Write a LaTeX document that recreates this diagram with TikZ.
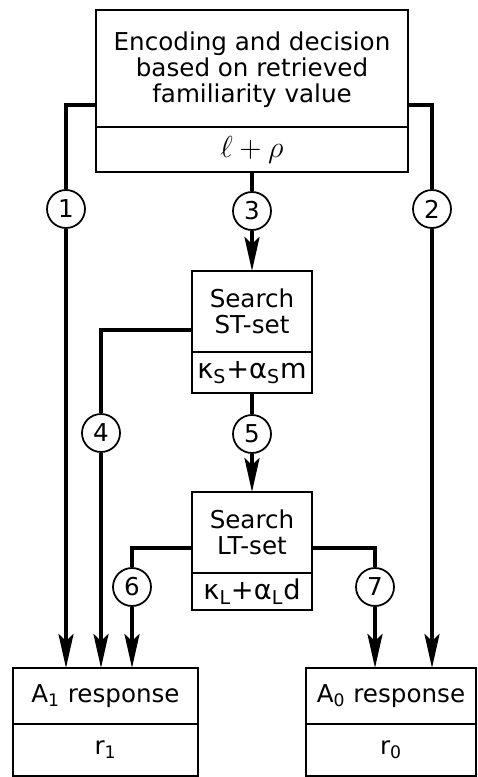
\documentclass[tikz,border=0pt]{standalone}
\usepackage{fontspec}
\setmainfont{DejaVu Sans}
\usetikzlibrary{arrows.meta,positioning}

\begin{document}
\begin{tikzpicture}[
  x=0.02cm,
  y=-0.02cm,
  every node/.style={font=\fontsize{14}{14.8}\selectfont},
  box/.style={draw, line width=1.1pt, outer sep=0pt, inner sep=0pt, align=center},
  num/.style={circle, draw, line width=1pt, minimum size=0.76cm, inner sep=0pt},
  flow/.style={line width=2.2pt},
  flowarrow/.style={flow, -{Stealth[length=0.68cm, width=0.3cm, inset=0.14cm]}}
]
  \useasboundingbox (0,0) rectangle (477,777);

  % ---- top box: encoding and decision ----
  \node[box, minimum width=6.24cm, minimum height=2.34cm] (enc) at (252,68.5)
    {\rule{0pt}{12pt}Encoding and decision\\based on retrieved\\familiarity value};
  \node[box, minimum width=6.24cm, minimum height=0.9cm, below=0pt of enc] (encp)
    {\fontsize{17}{18}\selectfont$\ell+\rho$};

  % ---- search boxes ----
  \node[box, minimum width=2.4cm, minimum height=1.62cm] (st) at (252,311.5)
    {Search\\ST-set};
  \node[box, minimum width=2.4cm, minimum height=0.82cm, below=0pt of st] (stp)
    {\fontsize{15.5}{16}\selectfont κ\textsubscript{S}+α\textsubscript{S}m};
  \node[box, minimum width=2.4cm, minimum height=1.62cm] (lt) at (252,532.5)
    {Search\\LT-set};
  \node[box, minimum width=2.4cm, minimum height=0.74cm, below=0pt of lt] (ltp)
    {\fontsize{15.5}{16}\selectfont κ\textsubscript{L}+α\textsubscript{L}d};

  % ---- response boxes (cut by the lower and right edges) ----
  \node[box, minimum width=3.7cm, minimum height=1.12cm] (a1) at (105.5,696)
    {A\textsubscript{1} response};
  \node[box, minimum width=3.7cm, minimum height=1.04cm, below=0pt of a1] (a1p)
    {r\textsubscript{1}};
  \node[box, minimum width=3.4cm, minimum height=1.12cm] (a0) at (391,696)
    {A\textsubscript{0} response};
  \node[box, minimum width=3.4cm, minimum height=1.04cm, below=0pt of a0] (a0p)
    {r\textsubscript{0}};

  % ---- numbered circles ----
  \node[num] (c1) at (66,209)  {1};
  \node[num] (c2) at (432,209) {2};
  \node[num] (c3) at (252,211) {3};
  \node[num] (c4) at (101,433) {4};
  \node[num] (c5) at (252,434) {5};
  \node[num] (c6) at (132,587) {6};
  \node[num] (c7) at (375,587) {7};

  % ---- corners of the paths ----
  \coordinate (k1) at (66,105);
  \coordinate (k2) at (432,105);
  \coordinate (k4) at (101,330);
  \coordinate (k6) at (132,548);
  \coordinate (k7) at (375,548);

  % ---- paths ----
  \draw[flow] (enc.west |- k1) -- (k1) -- (c1);
  \draw[flowarrow] (c1) -- (c1 |- a1.north);
  \draw[flow] (enc.east |- k2) -- (k2) -- (c2);
  \draw[flowarrow] (c2) -- (c2 |- a0.north);
  \draw[flow] (encp.south) -- (c3);
  \draw[flowarrow] (c3) -- (st.north);
  \draw[flow] (st.west |- k4) -- (k4) -- (c4);
  \draw[flowarrow] (c4) -- (c4 |- a1.north);
  \draw[flow] (stp.south) -- (c5);
  \draw[flowarrow] (c5) -- (lt.north);
  \draw[flow] (lt.west |- k6) -- (k6) -- (c6);
  \draw[flowarrow] (c6) -- (c6 |- a1.north);
  \draw[flow] (lt.east |- k7) -- (k7) -- (c7);
  \draw[flowarrow] (c7) -- (c7 |- a0.north);
\end{tikzpicture}
\end{document}
